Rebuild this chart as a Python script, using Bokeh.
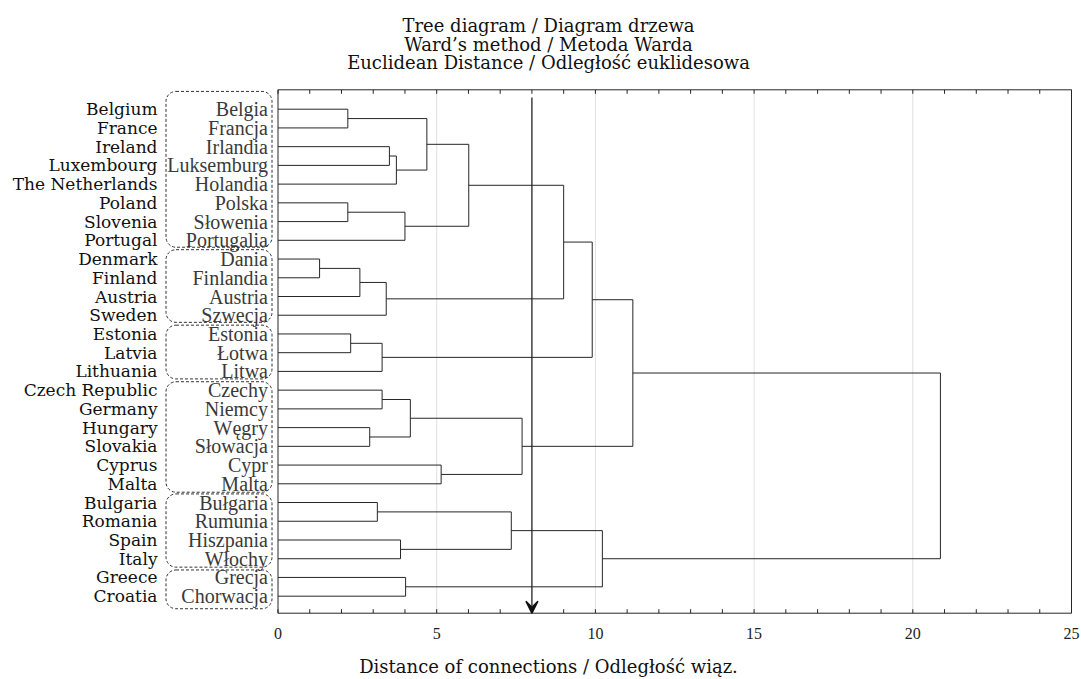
from bokeh.plotting import figure
from bokeh.models import Range1d, Arrow, VeeHead, ColumnDataSource
from bokeh.core.properties import value
from bokeh.embed import file_html
from bokeh.resources import INLINE

# ---------------- data ----------------
countries_en = ["Belgium", "France", "Ireland", "Luxembourg", "The Netherlands", "Poland",
                "Slovenia", "Portugal", "Denmark", "Finland", "Austria", "Sweden", "Estonia",
                "Latvia", "Lithuania", "Czech Republic", "Germany", "Hungary", "Slovakia",
                "Cyprus", "Malta", "Bulgaria", "Romania", "Spain", "Italy", "Greece", "Croatia"]
countries_pl = ["Belgia", "Francja", "Irlandia", "Luksemburg", "Holandia", "Polska",
                "Słowenia", "Portugalia", "Dania", "Finlandia", "Austria", "Szwecja", "Estonia",
                "Łotwa", "Litwa", "Czechy", "Niemcy", "Węgry", "Słowacja",
                "Cypr", "Malta", "Bułgaria", "Rumunia", "Hiszpania", "Włochy", "Grecja", "Chorwacja"]

# linkage: node ids 0..26 are leaves, each merge creates node 27, 28, ...
merge_a = [8, 0, 5, 12, 27, 17, 21, 15, 30, 31, 2, 37, 23, 29, 25, 34, 28, 19, 43, 33, 42, 45, 48, 46, 49, 51]
merge_b = [9, 1, 6, 13, 10, 18, 22, 16, 14, 11, 3, 4, 24, 7, 26, 32, 38, 20, 40, 39, 44, 36, 35, 41, 47, 50]
merge_height = [1.31, 2.20, 2.20, 2.29, 2.58, 2.89, 3.13, 3.28, 3.28, 3.41, 3.51, 3.73, 3.86,
                4.00, 4.02, 4.17, 4.69, 5.14, 6.01, 7.35, 7.69, 9.00, 9.90, 10.22, 11.18, 20.87]

# groups marked with dashed boxes (first leaf, last leaf)
group_first = [0, 8, 12, 15, 21, 25]
group_last = [7, 11, 14, 20, 24, 26]

cut_distance = 8.0
x_ticks = [0, 5, 10, 15, 20, 25]
x_minor = [1, 2, 3, 4, 6, 7, 8, 9, 11, 12, 13, 14, 16, 17, 18, 19, 21, 22, 23, 24]
x_grid = [5, 10, 15, 20]
x_min, x_max = 0, 25

title_lines = ["Tree diagram / Diagram drzewa",
               "Ward\u2019s method / Metoda Warda",
               "Euclidean Distance / Odległość euklidesowa"]
x_title = "Distance of connections / Odległość wiąz."

# ---------------- layout constants (pixels) ----------------
W, H = 1081, 679
X0_PX, PX_PER_X = 277.5, 31.74      # pixel of x=0, pixels per distance unit
Y0_PX, PX_PER_Y = 108.7, 18.73      # pixel of first leaf, pixels per leaf


def xd(px):
    return (px - X0_PX) / PX_PER_X


def yd(py):
    return (py - Y0_PX) / PX_PER_Y


Y_TOP, Y_BOT = yd(89.3), yd(612.7)
TICK = 4.0 / PX_PER_Y

# ---------------- dendrogram geometry ----------------
n = len(countries_en)
node_x = [0.0] * n
node_y = [float(i) for i in range(n)]
x0s, y0s, x1s, y1s = [], [], [], []
for a, b, h in zip(merge_a, merge_b, merge_height):
    for c in (a, b):
        x0s.append(node_x[c]); y0s.append(node_y[c]); x1s.append(h); y1s.append(node_y[c])
    x0s.append(h); y0s.append(node_y[a]); x1s.append(h); y1s.append(node_y[b])
    node_x.append(h)
    node_y.append((node_y[a] + node_y[b]) / 2.0)

p = figure(width=W, height=H, output_backend="svg", toolbar_location=None,
           x_range=Range1d(xd(0), xd(W)), y_range=Range1d(yd(H), yd(0)),
           x_axis_location=None, y_axis_location=None, min_border=0)
p.outline_line_color = None
p.background_fill_color = "white"
p.border_fill_color = "white"
for g in p.grid:
    g.visible = False
    g.grid_line_color = None

LINE = "#262626"

# grid lines
p.segment(x0=x_grid, y0=[Y_TOP] * len(x_grid), x1=x_grid, y1=[Y_BOT] * len(x_grid),
          line_color="#e0e0e0", line_width=1)

# ticks (inside, top and bottom)
all_ticks = x_ticks + x_minor
p.segment(x0=all_ticks, y0=[Y_BOT] * len(all_ticks), x1=all_ticks,
          y1=[Y_BOT - TICK] * len(all_ticks), line_color=LINE, line_width=1)
p.segment(x0=all_ticks, y0=[Y_TOP] * len(all_ticks), x1=all_ticks,
          y1=[Y_TOP + TICK] * len(all_ticks), line_color=LINE, line_width=1)

# frame box
p.quad(left=[x_min], right=[x_max], top=[Y_TOP], bottom=[Y_BOT],
       fill_color=None, line_color=LINE, line_width=1)

# tick labels
p.text(x=x_ticks, y=[yd(633)] * len(x_ticks), text=[str(t) for t in x_ticks],
       text_align="center", text_baseline="middle",
       text_font=value("Liberation Serif"), text_font_size="16px", text_color="#222222")

# dendrogram
p.segment(x0=x0s, y0=y0s, x1=x1s, y1=y1s, line_color=LINE, line_width=1)

# labels
src = ColumnDataSource(dict(y=list(range(n)), en=countries_en, pl=countries_pl))
p.text(x=xd(157), y="y", text="en", source=src, text_align="right", text_baseline="middle",
       text_font=value("DejaVu Serif"), text_font_size="17px", text_color="#111111")
p.text(x=xd(267.5), y="y", text="pl", source=src, text_align="right", text_baseline="middle",
       text_font=value("Liberation Serif"), text_font_size="20px", text_color="#3a3a3a")

# dashed group boxes
pad_top = [0.95, 0.5, 0.47, 0.45, 0.46, 0.4]
pad_bot = [0.37, 0.38, 0.4, 0.45, 0.45, 0.67]
p.quad(left=[xd(165.5)] * len(group_first), right=[xd(271.5)] * len(group_first),
       top=[g - t for g, t in zip(group_first, pad_top)],
       bottom=[g + b for g, b in zip(group_last, pad_bot)],
       fill_color=None, line_color="#333333", line_width=1, line_dash="3 2",
       border_radius=10)

# cut arrow
p.add_layout(Arrow(end=VeeHead(size=12, fill_color="#111111", line_color="#111111",
                               line_width=1.5),
                   x_start=cut_distance, y_start=yd(97), x_end=cut_distance, y_end=Y_BOT,
                   line_color="#222222", line_width=1.3))

# titles
title_y = [25, 43.5, 62]
p.text(x=[xd(548)] * 3, y=[yd(v) for v in title_y], text=title_lines,
       text_align="center", text_baseline="middle",
       text_font=value("DejaVu Serif"), text_font_size="18px", text_color="#111111")
p.text(x=[xd(548)], y=[yd(666)], text=[x_title],
       text_align="center", text_baseline="middle",
       text_font=value("DejaVu Serif"), text_font_size="18px", text_color="#111111")

open("out.html", "w").write(file_html(p, INLINE))
